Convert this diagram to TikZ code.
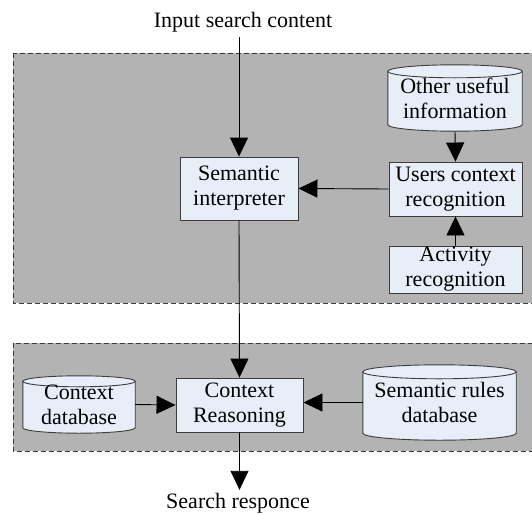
\documentclass[tikz,border=0pt]{standalone}
\usepackage{fontspec}
\setmainfont{Liberation Serif}
\usetikzlibrary{calc,arrows.meta}
\definecolor{boxgray}{HTML}{B3B3B3}
\definecolor{nodefill}{HTML}{E7EEF8}
\definecolor{edgegray}{HTML}{3C3C3C}
\tikzset{
  lbl/.style={font=\fontsize{22}{25}\selectfont, align=center, inner sep=0pt},
  procbox/.style={lbl, draw=edgegray, fill=nodefill, line width=0.9pt},
  cylnode/.style={lbl},
  cylshape/.style={draw=edgegray, fill=nodefill, line width=0.9pt},
  groupbox/.style={draw=edgegray, fill=boxgray, dash pattern=on 5pt off 3pt, line width=0.9pt},
  conn/.style={draw=black, line width=0.9pt, -{Triangle[length=19pt,width=18pt]}},
}
\newcommand\drawcyl[2]{%
  \path[cylshape] let \p1=(#1.north west), \p2=(#1.south east), \n1={(\x2-\x1)/2} in
    (\x1,\y1-#2) -- (\x1,\y2+#2)
    arc[start angle=180,end angle=360,x radius=\n1,y radius=#2]
    -- (\x2,\y1-#2)
    arc[start angle=0,end angle=180,x radius=\n1,y radius=#2] -- cycle;
  \path[cylshape,fill=none] let \p1=(#1.north west), \p2=(#1.south east), \n1={(\x2-\x1)/2} in
    (\x1,\y1-#2) arc[start angle=180,end angle=360,x radius=\n1,y radius=#2];
}
\begin{document}
\begin{tikzpicture}[x=1pt,y=-1pt]
\useasboundingbox (0,0) rectangle (532,514);
\begin{scope}
\clip (0,0) rectangle (532,514);
% group boxes
\draw[groupbox] (13,53) rectangle (545,303);
\draw[groupbox] (13,343) rectangle (545,451);
\end{scope}

% text labels
\node[lbl] (input) at (243,22) {Input search content};
\node[lbl] (resp) at (238,503) {Search responce};

% process boxes
\node[procbox, minimum width=118pt, minimum height=63pt] (sem) at (239,188.5) {Semantic\\interpreter};
\node[procbox, minimum width=133pt, minimum height=54pt] (ucr) at (455.5,189) {Users context\\recognition};
\node[procbox, minimum width=133pt, minimum height=47pt] (act) at (455.5,269.5) {Activity\\recognition};
\node[procbox, minimum width=127pt, minimum height=54pt] (cr) at (239.5,405) {Context\\Reasoning};

% cylinders
\node[cylnode, minimum width=134pt, minimum height=66pt] (other) at (455,98) {};
\drawcyl{other}{6.5pt}
\node[lbl] at (other) {Other useful\\information};

\node[cylnode, minimum width=112pt, minimum height=57pt] (cdb) at (79,404.5) {};
\drawcyl{cdb}{5.5pt}
\node[lbl] at (cdb) {Context\\database};

\node[cylnode, minimum width=153pt, minimum height=75pt] (srd) at (439.5,402.5) {};
\drawcyl{srd}{7pt}
\node[lbl] at (srd) {Semantic rules\\database};

% connectors
\draw[conn] ([yshift=-5pt]sem.north |- input.south) -- (sem.north);
\draw[conn] (ucr.west) -- (sem.east);
\draw[conn] (other.south) -- (ucr.north);
\draw[conn] (act.north) -- (ucr.south);
\draw[conn] (sem.south) -- (cr.north);
\draw[conn] (cdb.east) -- (cr.west);
\draw[conn] (srd.west) -- (srd.west -| cr.east);
\draw[conn] (cr.south) -- ([yshift=3pt]cr.south |- resp.north);
\end{tikzpicture}
\end{document}
